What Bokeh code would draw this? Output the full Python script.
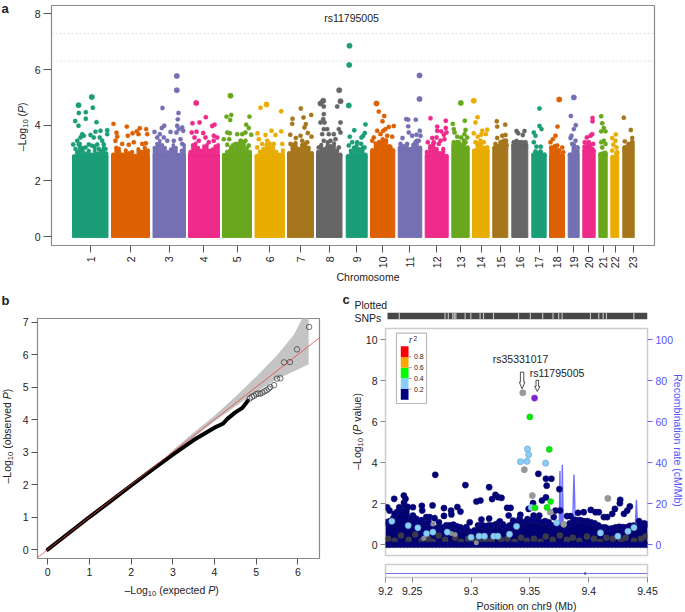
import math
import numpy as np
from bokeh.plotting import figure
from bokeh.layouts import column, row
from bokeh.models import Range1d, LinearAxis, Label, FixedTicker
from bokeh.embed import file_html
from bokeh.resources import INLINE

FONT = "Liberation Sans"
TXT = "#222222"

# ---------- panel a data
chrom_labels = [str(i) for i in range(1, 24)]
chrom_pos = [90, 130, 168.7, 203.3, 236.7, 269.3, 300.3, 329.3, 356.3, 382.3, 409.3, 436.3, 460,
             480.7, 500.3, 519.3, 538.7, 556.7, 573.3, 588.3, 602.7, 614.7, 632.7]
chrom_start = [72, 111, 152.5, 188, 222, 254.5, 287, 316, 345.7, 370, 397.7, 424.7, 451.3, 472,
               492.3, 511.3, 531.3, 549, 567.7, 582.3, 598.3, 610.3, 622.3]
chrom_end = [107.5, 149, 185, 219, 251, 284, 313, 341.5, 366.7, 394.3, 421.3, 447.7, 468.7, 488.7,
             507.3, 527.3, 545.7, 564, 578.7, 594.7, 606.7, 618.3, 633.7]
chrom_colors = ["#1B9E77", "#DD6102", "#7570B3", "#EE2A8B", "#69A81E", "#E9AD02", "#A6761D", "#666666"]

body_tops = [
    [2.9, 3.05, 3.35, 3.2, 3.0, 3.1, 2.95, 3.25, 3.0, 3.1, 3.2, 3.0],
    [2.95, 3.2, 3.05, 2.95, 3.1, 3.0, 3.05, 2.9, 3.15, 3.05, 3.2, 3.1],
    [3.2, 3.35, 3.45, 3.3, 3.2, 3.05, 3.15, 3.3, 3.2, 2.95, 3.1, 3.3],
    [2.95, 3.3, 3.35, 3.2, 3.1, 3.25, 3.3, 3.1, 3.15, 3.25, 3.3],
    [2.95, 3.05, 3.1, 3.3, 3.2, 3.35, 3.45, 3.4, 3.2, 3.05],
    [2.9, 3.05, 3.15, 3.3, 3.35, 3.2, 3.05, 2.95, 3.1],
    [3.0, 3.3, 3.25, 3.15, 3.3, 3.35, 3.2, 3.0],
    [3.05, 3.3, 3.15, 3.4, 3.25, 3.35, 3.1, 2.95],
    [2.9, 3.1, 3.2, 3.3, 3.15, 3.2, 2.95],
    [3.1, 3.35, 3.4, 3.5, 3.45, 3.25, 3.1],
    [3.2, 3.25, 3.3, 3.15, 3.3, 3.45, 3.2],
    [3.05, 3.25, 3.35, 3.15, 3.0, 3.15, 2.9],
    [3.3, 3.4, 3.3, 3.45, 3.2],
    [3.1, 3.35, 3.3, 3.2, 3.1],
    [3.2, 3.25, 3.4, 3.45],
    [3.3, 3.45, 3.4, 3.35, 3.3],
    [2.95, 3.0, 3.0, 2.95],
    [3.2, 3.25, 3.1, 2.9],
    [2.95, 3.3, 3.2],
    [3.25, 3.3, 3.3, 3.1],
    [2.95, 3.0],
    [2.85, 3.0],
    [3.2, 3.3, 3.4],
]

chrom_hits = [
 [(91.3,5.01),(78,4.72),(78.3,4.44),(85.3,4.47),(92.3,4.63),(85.3,4.23),(74.7,4.15),(96,4.11),(78,3.98),(72.7,3.31),(81.7,3.68),(80,3.56),(100,3.8),(95,3.77),(90,3.65),(106.7,3.82),(106.7,3.68),(99.3,3.56),(101.7,3.44),(76.7,3.44),(78.3,3.31),(83.3,3.62),(93.3,3.56),(96.7,3.31),(88.3,3.31),(103.3,3.31),(75,3.15),(80,3.15),(85,3.2),(91.7,3.26),(98.3,3.15),(105,3.15)],
 [(113,4.05),(126.3,3.95),(116,3.73),(116.7,3.59),(127.3,3.62),(132,3.71),(136.3,3.78),(139.3,3.89),(138,3.68),(145.7,3.86),(146.7,3.68),(115,3.44),(121.7,3.33),(128.3,3.3),(133.3,3.39),(141.7,3.33),(145.3,3.35),(118.3,3.15)],
 [(176.3,5.77),(176.3,5.26),(162,4.62),(178,4.44),(177.3,4.21),(163.7,3.98),(161.3,3.9),(176.7,3.98),(181.7,3.92),(178.3,3.86),(182.7,3.8),(154,3.76),(170,3.76),(176,3.74),(159.3,3.68),(163.3,3.56),(156.7,3.56),(166.7,3.44),(173.3,3.44),(180,3.5),(181.7,3.33)],
 [(195.7,4.8),(199,4.1),(205.3,4.29),(192,4.07),(211.7,3.97),(214,4.02),(191.3,3.74),(196,3.77),(202.7,3.72),(213.3,3.62),(216.7,3.56),(194,3.56),(205,3.56),(190,3.03),(198.3,3.44),(208.3,3.39),(213.3,3.44)],
 [(230,5.06),(230.7,4.37),(226,4.31),(229.7,4.19),(249,4.31),(245.7,4.02),(248.3,3.9),(226.7,3.74),(229.3,3.71),(223.3,3.5),(228.7,3.5),(236.7,3.68),(241.7,3.68),(245,3.74),(250.7,3.66),(226.7,3.3),(230.7,3.2),(240,3.44),(245,3.44),(248.3,3.27),(235,3.33)],
 [(260,4.63),(266,4.74),(280.7,4.5),(257,3.71),(271,3.8),(280.7,3.78),(265,3.65),(275,3.65),(258.3,3.5),(256.7,3.2),(266.7,3.44),(273.3,3.33),(281.7,3.33),(261.7,3.33)],
 [(300.3,4.6),(292,4.23),(291.7,4.05),(303,4.28),(310.7,4.37),(305.3,4.04),(304,3.92),(289.7,3.66),(295.3,3.54),(300,3.62),(307.3,3.72),(311,3.59),(290,3.33),(301.7,3.44),(295,3.35),(306.7,3.39)],
 [(338.7,5.26),(322.7,4.88),(320,4.78),(323.3,4.67),(336.7,4.67),(340,4.86),(323.3,4.4),(322.7,4.22),(320,4.1),(324,4.1),(340,4.1),(323.3,3.86),(326.7,3.86),(321.7,3.68),(328.3,3.68),(333.3,3.68),(338.3,3.86),(340,3.74),(323.3,3.44),(330,3.44),(335,3.5),(318.3,3.2),(326.7,3.2),(338.3,3.2),(333.3,3.03)],
 [(349,6.85),(348.7,6.16),(348.3,4.71),(353.7,3.82),(365,4.03),(349.3,3.59),(361,3.56),(364.3,3.72),(362.7,3.62),(351.7,3.39),(348.3,3.27),(356.7,3.39),(360.7,3.33),(355,3.2),(364,3.2)],
 [(376,4.78),(378.3,4.49),(383.7,4.33),(382,4.14),(393.3,3.97),(388.3,3.94),(385,3.86),(382.7,3.8),(376.7,3.8),(391.7,3.59),(386.7,3.62),(380,3.68),(373.3,3.56),(371.7,3.44),(383.3,3.44),(376.7,3.33),(390,3.2)],
 [(419,5.79),(419,4.94),(405.7,4.22),(407.7,4.2),(415.3,4.2),(407.7,3.96),(419.3,3.8),(408.3,3.74),(416,3.66),(420,3.62),(402,3.54),(411.7,3.62),(400,3.33),(415,3.39),(406.7,3.33),(418.3,3.44)],
 [(430,4.25),(445.3,4.16),(436.7,3.95),(445.3,3.9),(436.7,3.8),(440.7,3.78),(446,3.74),(443.3,3.66),(436,3.56),(444,3.5),(431.7,3.54),(440,3.44),(427.3,3.39),(433.3,3.39),(438.3,3.33)],
 [(460.3,4.8),(464.3,4.16),(452.3,4.05),(453.3,3.86),(465,3.83),(454,3.74),(464,3.68),(456.7,3.59),(460.7,3.56),(466.7,3.56),(453.3,3.39),(458.3,3.39),(465,3.39),(455,3.2),(461.7,3.2)],
 [(473.3,4.88),(477,4.29),(475,4.1),(486.7,3.84),(481.7,3.8),(473.3,3.71),(485.3,3.68),(480.7,3.66),(477.3,3.59),(475,3.39),(483.3,3.39),(486.7,3.2),(480,3.44)],
 [(496.3,4.14),(496.7,3.95),(504.7,4.02),(505,3.65),(501.7,3.62),(496.7,3.54),(503.3,3.44),(495,3.33),(500,3.39),(506,3.27)],
 [(516,3.79),(524,3.79),(517.7,3.71),(522.3,3.65),(513.3,3.39),(516.7,3.39),(521.7,3.39),(525,3.39),(513.3,3.15),(518.3,3.15),(524,3.15)],
 [(539,4.6),(539,3.97),(541,3.86),(533.3,3.74),(535,3.62),(533.3,3.39),(536,3.23),(540.3,3.23),(535,3.06),(540,3.06)],
 [(558.7,4.92),(557,3.95),(555,3.62),(552.3,3.5),(550,3.39),(556.7,3.27),(561.7,3.2),(553.3,3.2),(562.7,3.03),(551.7,2.97)],
 [(573.3,5.0),(570.3,4.33),(575.3,4.0),(573.3,3.86),(571,3.62),(570,3.54),(575,3.44),(571.7,3.33),(576.7,3.2),(573.3,3.03)],
 [(592,4.26),(592,4.14),(591.7,3.68),(586.3,3.56),(590,3.62),(584.3,3.39),(588.3,3.39),(592.7,3.33),(585,3.2),(591.7,3.15)],
 [(600.7,4.32),(601.7,4.07),(603.3,3.9),(600.7,3.78),(605,3.78),(603.3,3.44),(600.7,3.39),(605,3.33),(601.7,3.2),(602.7,2.99)],
 [(615.3,3.67),(611.7,3.54),(615,3.44),(612.7,3.3),(616,3.2),(611.7,3.09),(616.7,3.03)],
 [(623.3,4.27),(630.3,3.83),(631.7,3.54),(624.3,3.42),(628.3,3.33),(625,3.2),(631.7,3.27)],
]
sig_lines = [7.3, 6.3]
a_ticks = [0, 2, 4, 6, 8]

# ---------- panel b data
qq_line_exp = [0, 0.5, 1, 1.5, 2, 2.5, 3, 3.5, 4, 4.2, 4.31, 4.5, 4.67, 4.8]
qq_line_obs = [0, 0.5, 1, 1.48, 1.97, 2.45, 2.92, 3.37, 3.75, 3.87, 4.02, 4.22, 4.36, 4.58]
qq_exp = [4.85, 4.9, 4.95, 5.0, 5.05, 5.1, 5.15, 5.2, 5.25, 5.3, 5.34, 5.43, 5.5, 5.58, 5.67, 5.81, 5.98, 6.27]
qq_obs = [4.65, 4.7, 4.73, 4.78, 4.8, 4.8, 4.83, 4.87, 4.9, 4.95, 5.0, 5.06, 5.26, 5.27, 5.76, 5.77, 6.16, 6.85]
band_x = [2.9, 3.5, 4, 4.5, 5, 5.5, 5.9, 6.1, 6.26]
band_hi = [2.95, 3.6, 4.12, 4.7, 5.32, 5.98, 6.6, 7.1, 7.6]
band_lo = [2.87, 3.45, 3.95, 4.4, 4.85, 5.25, 5.48, 5.6, 5.7]

# ---------- panel c data
snp_gaps = [9.239, 9.2779, 9.2807, 9.2845, 9.2858, 9.2871, 9.295, 9.2998, 9.3077, 9.3106, 9.3191, 9.3404,
            9.3504, 9.3609, 9.3697, 9.3745, 9.3774, 9.4015, 9.4086, 9.4123, 9.4151, 9.4384]
mass_tops = [(9.2285,1.1),(9.231,1.15),(9.234,1.3),(9.237,1.6),(9.24,1.75),(9.243,2.05),(9.246,1.85),(9.249,1.3),(9.252,1.1),(9.255,1.15),
 (9.258,1.2),(9.261,1.05),(9.264,1.1),(9.267,.85),(9.27,.8),(9.273,.85),(9.276,.85),(9.279,.95),(9.282,.95),(9.285,.98),(9.288,.9),(9.291,.85),(9.294,.75),
 (9.297,.7),(9.3,.62),(9.303,.7),(9.306,.95),(9.309,.95),(9.312,.9),(9.315,.95),(9.318,.92),(9.321,1.0),(9.324,1.1),(9.327,1.0),(9.33,.85),(9.333,.95),(9.336,1.05),
 (9.339,1.1),(9.342,1.15),(9.345,1.1),(9.348,1.25),(9.351,1.2),(9.354,1.15),(9.357,1.2),(9.36,1.1),(9.363,1.15),(9.366,1.1),(9.369,.95),(9.372,.86),(9.375,.9),(9.378,.85),
 (9.381,.94),(9.384,1.05),(9.387,1.1),(9.39,1.2),(9.393,1.2),(9.396,1.15),(9.399,1.15),(9.402,1.1),(9.405,1.05),(9.408,.95),(9.411,.85),(9.414,.85),(9.417,.78),(9.42,.8),(9.423,.85),
 (9.426,.88),(9.429,.86),(9.432,.85),(9.435,.92),(9.438,.94),(9.441,.86),(9.444,.9),(9.447,1.05),(9.4495,1.0)]
navy_pts = [(9.2696,3.41),(9.2952,2.91),(9.3154,2.81),(9.2347,2.24),(9.2429,2.4),(9.2443,2.24),(9.3046,2.11),(9.308,2.16),(9.3179,2.23),(9.3208,2.44),(9.323,2.32),(9.3259,2.29),
 (9.2582,1.9),(9.2673,1.92),(9.277,1.79),(9.2884,1.84),(9.291,1.62),(9.283,1.67),(9.2833,1.48),(9.277,1.41),(9.3307,1.8),(9.3336,1.8),(9.332,1.43),(9.3088,1.23),(9.3154,1.28),
 (9.2585,1.67),(9.2506,1.83),(9.239,1.83),(9.2307,1.67),(9.2287,1.83),(9.235,1.51),(9.2506,1.43),(9.2534,1.27),(9.262,1.35),(9.2648,1.35),(9.269,1.3),(9.2727,1.1),(9.2989,1.1),(9.296,.86),
 (9.3245,1.14),(9.3358,1.18),(9.3174,.94),(9.3102,.94),(9.3273,.94),
 (9.3572,3.46),(9.3637,3.22),(9.3683,3.22),(9.3643,2.88),(9.3751,2.71),(9.3603,2.16),(9.3637,2.31),(9.3527,2.03),(9.349,1.75),(9.3717,1.67),(9.3757,1.67),(9.3816,1.4),(9.3845,1.4),(9.3873,1.22),
 (9.391,1.56),(9.3958,1.59),(9.4018,1.7),(9.4058,1.59),(9.4086,1.59),(9.4129,1.35),(9.4157,1.35),(9.42,1.51),(9.4223,1.75),(9.4268,2.19),(9.4265,2.03),(9.435,1.87),(9.4328,1.67),(9.43,1.51),(9.4428,1.15),
 (9.3419,1.46),(9.3413,1.27),(9.358,1.43),(9.3532,1.43),(9.3703,1.35)]
dark_pts = [(9.2295,.3),(9.235,.2),(9.2405,.45),(9.247,.25),(9.2525,.5),(9.258,.2),(9.2635,.3),(9.2675,.15),(9.2725,.45),(9.278,.25),(9.2865,.35),(9.2915,.15),(9.2975,.3),
 (9.303,.2),(9.3085,.1),(9.3125,.25),(9.3175,.2),(9.3255,.25),(9.331,.3),(9.337,.15),(9.3425,.35),(9.3475,.2),(9.3535,.3),(9.359,.15),(9.3635,.4),(9.3695,.25),(9.3755,.45),
 (9.3815,.25),(9.3865,.35),(9.392,.2),(9.3985,.4),(9.4045,.3),(9.4095,.15),(9.415,.35),(9.4205,.3),(9.4275,.2),(9.4315,.35),(9.4385,.2),(9.4445,.3),(9.4485,.4)]
dim_pts = [(9.2676,1.02),(9.2833,.55),(9.2865,.5),(9.2598,.32),(9.3045,.1)]
sky_pts = [(9.2327,1.15),(9.2466,.94),(9.2548,.83),(9.2622,.55),(9.2676,.62),(9.2798,.62),(9.3,.37),(9.3068,.42),(9.3114,.42),(9.3193,.42),(9.3228,.42),(9.3327,.52),(9.3387,.9),
 (9.3728,1.07),(9.41,.58),(9.4248,.42),(9.4334,.66),(9.4385,.84),(9.3512,1.82),
 (9.348,4.67),(9.349,4.39),(9.342,4.05),(9.3475,4.07),(9.3634,3.98)]
gray_pts = [(9.344,7.41),(9.3453,3.66),(9.3521,2.4),(9.4163,2.26),(9.3674,1.59),(9.3788,1.0)]
green_pts = [(9.35,6.23),(9.3665,4.65),(9.3544,1.8),(9.3646,1.82),(9.3677,2.11)]
lead_snp = [(9.354,7.15)]
recomb_x = [9.2273, 9.37, 9.3748, 9.3756, 9.3762, 9.377, 9.3776, 9.3785, 9.386, 9.3875, 9.389, 9.439, 9.4406, 9.442, 9.45]
recomb_y = [0.5, 1, 1.5, 36, 3, 2, 39, 2, 2, 34.3, 2, 1, 22, 1, 1]
r2_edges = [0, 0.2, 0.4, 0.6, 0.8, 1.0]
r2_colors = ["#000080", "#87CEFA", "#00FF00", "#FFA500", "#FF0000"]
r2_ticks = [0.2, 0.4, 0.6, 0.8]
c_x_ticks = {9.2273: "9.2", 9.25: "9.25", 9.3: "9.3", 9.35: "9.35", 9.4: "9.4", 9.45: "9.45"}
gene_x = [9.2273, 9.45]
gene_mark = 9.397

WIDTHS = {"–":.556,"L":.556,"o":.556,"g":.556,"(":.333,")":.333," ":.278,"P":.667,"e":.556,"x":.5,"p":.556,
          "c":.5,"t":.278,"d":.556,"b":.556,"s":.5,"r":.333,"v":.5,"a":.556,"l":.222,"u":.556,"1":.556,"0":.556}

# transparent page-sized sheet that carries every free text
sheet = figure(width=685, height=612, x_range=Range1d(0, 685), y_range=Range1d(612, 0), output_backend="svg",
               toolbar_location=None, x_axis_type=None, y_axis_type=None, min_border=0,
               background_fill_alpha=0, border_fill_alpha=0, outline_line_color=None, margin=(-612, 0, 0, 0))
sheet.grid.visible = False

def put(x, y, txt, size=10.5, align="center", color=TXT, style="normal", angle=0, base="alphabetic"):
    # labels come out centred on the given point, so a wanted baseline is shifted by half the letter height
    if base == "alphabetic":
        d = 0.34 * size
        if angle == 0:
            y -= d
        elif angle > 0:
            x -= d
        else:
            x += d
    sheet.add_layout(Label(x=x, y=y, text=txt, text_font=FONT, text_font_size=f"{size:.1f}px", text_color=color,
                           text_font_style=style, text_align=align, text_baseline=base, angle=angle))

def rich(start, base, vertical, pieces, size=10.5):
    pos = start
    sign = -1 if vertical else 1
    for txt, style, scale, off in pieces:
        fs = size * scale
        lead = len(txt) - len(txt.lstrip(" "))
        pos += sign * lead * WIDTHS[" "] * fs
        core = txt.strip(" ")
        w = sum(WIDTHS.get(c, .556) for c in core) * fs
        if vertical:
            put(base + off, pos, core, size=fs, align="left", style=style, angle=math.pi / 2)
        else:
            put(pos, base + off, core, size=fs, align="left", style=style)
        pos += sign * w
        trail = len(txt) - len(txt.rstrip(" "))
        pos += sign * trail * WIDTHS[" "] * fs

def base_fig(w, h, l, r, t, b, xr, yr, **kw):
    p = figure(width=w, height=h, x_range=xr, y_range=yr, output_backend="svg", toolbar_location=None,
               min_border_left=l, min_border_right=r, min_border_top=t, min_border_bottom=b,
               background_fill_color="white", border_fill_color="white", **kw)
    p.grid.visible = False
    return p

def style_axis(ax, size="10.5px", tick=6, color="#555555", text=TXT):
    ax.major_label_text_font = FONT
    ax.major_label_text_font_size = size
    ax.major_label_text_color = text
    ax.major_tick_line_color = color
    ax.major_tick_in = 0
    ax.major_tick_out = tick
    ax.minor_tick_line_color = None
    ax.axis_line_color = None

# ---------- panel a (frame 51..654 x 5..245)
ay0, ay1 = -0.32, 8.30
pa = base_fig(685, 285, 51, 31, 5, 40, Range1d(51, 654), Range1d(ay0, ay1))
pa.outline_line_color = "#8a8a8a"
pa.outline_line_width = 1.2
for s in sig_lines:
    pa.line([51, 654], [s, s], line_color="#dddddd", line_width=1, line_dash="2 2")
for i in range(23):
    col = chrom_colors[i % 8]
    tops = body_tops[i]
    edges = np.linspace(chrom_start[i], chrom_end[i], len(tops) + 1)
    pa.quad(left=chrom_start[i], right=chrom_end[i], bottom=-0.03, top=min(tops), fill_color=col, line_color=col, line_width=1)
    pa.quad(left=edges[:-1], right=edges[1:], bottom=min(tops) - 0.05, top=tops, fill_color=col, line_color=col, line_width=0.6)
    pa.scatter((edges[:-1] + edges[1:]) / 2, tops, size=(chrom_end[i] - chrom_start[i]) / len(tops) * 1.25,
               fill_color=col, line_color=None)
    xs = [h[0] for h in chrom_hits[i]]
    ys = [h[1] for h in chrom_hits[i]]
    sizes = [5.5 if y > 4.68 else 4.4 for y in ys]
    pa.scatter(xs, ys, size=sizes, fill_color=col, line_color=col, line_width=0.3)
pa.xaxis.ticker = FixedTicker(ticks=chrom_pos)
pa.xaxis.major_label_overrides = dict(zip(chrom_pos, chrom_labels))
pa.xaxis.major_label_orientation = math.pi / 2
pa.xaxis.major_label_standoff = 4
pa.yaxis.ticker = FixedTicker(ticks=a_ticks)
style_axis(pa.xaxis[0], tick=7)
style_axis(pa.yaxis[0], tick=8)
pa.yaxis.major_label_orientation = "horizontal"
pa.yaxis.major_label_standoff = 3
put(351, 21, "rs11795005")
put(367.5, 280, "Chromosome")
put(1, 12, "a", size=13, align="left", style="bold")
rich(150.7, 25, True, [("–Log", "normal", 1, 0), ("10", "normal", .72, 2.5), (" (", "normal", 1, 0),
                       ("P", "italic", 1, 0), (")", "normal", 1, 0)])

# ---------- panel b (frame 37..319 x 318..558)
bx0, bx1, by0, by1 = -0.247, 6.52, -0.276, 7.11
pb = base_fig(340, 327, 37, 21, 33, 54, Range1d(bx0, bx1), Range1d(by0, by1))
pb.outline_line_color = "#8a8a8a"
pb.outline_line_width = 1.2
pb.varea(x=band_x, y1=band_lo, y2=band_hi, fill_color="#c4c4c4")
pb.line(qq_line_exp, qq_line_obs, line_color="black", line_width=4, line_cap="round")
pb.scatter(qq_exp, qq_obs, size=5.5, fill_color=None, line_color="#333333", line_width=0.7)
pb.line([bx0 - .1, bx1 + .1], [bx0 - .1, bx1 + .1], line_color="#E8403A", line_width=0.9, line_alpha=0.85)
pb.xaxis.ticker = FixedTicker(ticks=list(range(7)))
pb.yaxis.ticker = FixedTicker(ticks=list(range(8)))
style_axis(pb.xaxis[0], tick=6)
style_axis(pb.yaxis[0], tick=6)
pb.yaxis.major_label_orientation = "horizontal"
pb.xaxis.major_label_standoff = 3
pb.yaxis.major_label_standoff = 3
put(1, 304, "b", size=13, align="left", style="bold")
rich(124, 593, False, [("–Log", "normal", 1, 0), ("10", "normal", .72, 2.5), (" (expected ", "normal", 1, 0),
                       ("P", "italic", 1, 0), (")", "normal", 1, 0)])
rich(483, 10.5, True, [("–Log", "normal", 1, 0), ("10", "normal", .72, 2.5), (" (observed ", "normal", 1, 0),
                       ("P", "italic", 1, 0), (")", "normal", 1, 0)])

# ---------- panel c (frame 385..647)
cx0, cx1 = 9.2273, 9.45
ccx = lambda px: cx0 + (px - 385) * (cx1 - cx0) / 262
ps = base_fig(345, 40, 45, 38, 27, 6, Range1d(cx0, cx1), Range1d(0, 1), x_axis_type=None, y_axis_type=None)
ps.outline_line_color = None
ps.quad(left=[ccx(387)], right=[ccx(647)], bottom=[0], top=[1], fill_color="#474747", line_color=None)
ps.segment(x0=snp_gaps, x1=snp_gaps, y0=0, y1=1, line_color="#c8c8c8", line_width=1.1)
put(354, 308, "Plotted", align="left")
put(354, 321, "SNPs", align="left")
put(342, 303, "c", size=13, align="left", style="bold")

cy0, cy1 = -0.52, 10.54
pc = base_fig(345, 235, 45, 38, 3, 5, Range1d(cx0, cx1), Range1d(cy0, cy1), x_axis_type=None)
ccy = lambda py: cy0 + (555 - py) * (cy1 - cy0) / 227
pc.outline_line_color = "#cccccc"
pc.outline_line_width = 1.5
pc.extra_y_ranges = {"rec": Range1d(cy0 * 10, cy1 * 10)}
rax = LinearAxis(y_range_name="rec", ticker=FixedTicker(ticks=[0, 20, 40, 60, 80, 100]))
pc.add_layout(rax, "right")
style_axis(rax, tick=5, color="#6666FF", text="#5555FF")
rax.major_label_orientation = "horizontal"
rax.major_label_standoff = 3
pc.yaxis[0].ticker = FixedTicker(ticks=[0, 2, 4, 6, 8, 10])
style_axis(pc.yaxis[0], tick=5, color="#888888")
pc.yaxis[0].major_label_orientation = "horizontal"
pc.yaxis[0].major_label_standoff = 3
pc.line(recomb_x, recomb_y, y_range_name="rec", line_color="#5555FF", line_width=1.4, line_alpha=0.85)
mx = [m[0] for m in mass_tops]
mt = [m[1] for m in mass_tops]
pc.vbar(x=mx, width=0.0036, bottom=0, top=mt, fill_color="#000070", line_color=None)
pc.scatter(mx, mt, size=6.2, fill_color="#000080", line_color="#1a1a5a", line_width=0.5)
pc.scatter(*zip(*dark_pts), size=6.5, fill_color="#3a3a4a", line_color=None)
pc.scatter(mx, [0.0] * len(mx), size=6, fill_color="#000080", line_color="#1a1a5a", line_width=0.5)
PS = 6.2
pc.scatter(*zip(*dim_pts), size=5, fill_color="#8c8c96", line_color=None)
pc.scatter(*zip(*navy_pts), size=PS, fill_color="#000080", line_color="#1a1a5a", line_width=0.5)
pc.scatter(*zip(*gray_pts), size=PS, fill_color="#999999", line_color="#8a8a8a", line_width=0.5)
pc.scatter(*zip(*sky_pts), size=PS, fill_color="#87CEFA", line_color="#6f9ec0", line_width=0.6)
pc.scatter(*zip(*green_pts), size=PS, fill_color="#00EE00", line_color="#55aa55", line_width=0.5)
pc.scatter(*zip(*lead_snp), size=PS, fill_color="#7D26CD", line_color="#7D26CD", line_width=0.5)
pc.quad(left=[ccx(396)], right=[ccx(426)], bottom=[ccy(403)], top=[ccy(332.7)], fill_color="white", line_color="#bbbbbb", line_width=1.2)
lgp = lambda r: 399.3 - r * 53.6
pc.quad(left=ccx(400.3), right=ccx(408), bottom=[ccy(lgp(e)) for e in r2_edges[:-1]], top=[ccy(lgp(e)) for e in r2_edges[1:]],
        fill_color=r2_colors, line_color=None)
pc.segment(x0=ccx(408), x1=ccx(411), y0=[ccy(lgp(t)) for t in r2_ticks], y1=[ccy(lgp(t)) for t in r2_ticks], line_color="#888888", line_width=0.8)
for t in r2_ticks:
    put(413.5, lgp(t), f"{t:.1f}", size=7, align="left", base="middle")
put(408.5, 343, "r", size=9, align="left", style="italic")
put(413, 340, "2", size=6.5, align="left")

def arrow(cxp, top, neck, tip, hw, hh):
    xs = [cxp - hw, cxp + hw, cxp + hw, cxp + hh, cxp, cxp - hh, cxp - hw]
    ys = [top, top, neck, neck, tip, neck, neck]
    pc.patch([ccx(v) for v in xs], [ccy(v) for v in ys], fill_color="white", line_color="#222222", line_width=0.8)
arrow(521.6, 371.7, 381.7, 388.3, 1.7, 2.8)
arrow(536.8, 379.8, 386, 391, 1.3, 2.6)
put(520, 362.5, "rs35331017")
put(556.5, 376, "rs11795005")
rich(469.3, 360.5, True, [("–Log", "normal", 1, 0), ("10", "normal", .72, 2.5), (" (", "normal", 1, 0),
                          ("P", "italic", 1, 0), (" value)", "normal", 1, 0)])
put(674, 440, "Recombination rate (cM/Mb)", color="#5555FF", angle=-math.pi / 2)

gy0, gy1 = -4.0, 9.0
pg = base_fig(345, 52, 45, 38, 4, 35, Range1d(cx0, cx1), Range1d(gy0, gy1), y_axis_type=None)
pg.outline_line_color = "#cccccc"
pg.outline_line_width = 1.5
pg.line(gene_x, [0, 0], line_color="#6666DD", line_width=0.9)
pg.scatter([gene_mark], [0], size=2.5, fill_color="#4444AA", line_color=None)
pg.xaxis.ticker = FixedTicker(ticks=list(c_x_ticks.keys()))
pg.xaxis.major_label_overrides = c_x_ticks
style_axis(pg.xaxis[0], tick=5, color="#888888")
pg.xaxis.major_label_standoff = 4
put(526, 609, "Position on chr9 (Mb)")

right = column(ps, pc, pg, spacing=0)
bottom = row(pb, right, spacing=0)
charts = column(pa, bottom, spacing=0)
root = column(charts, sheet, spacing=0)
open("out.html", "w").write(file_html(root, INLINE))
